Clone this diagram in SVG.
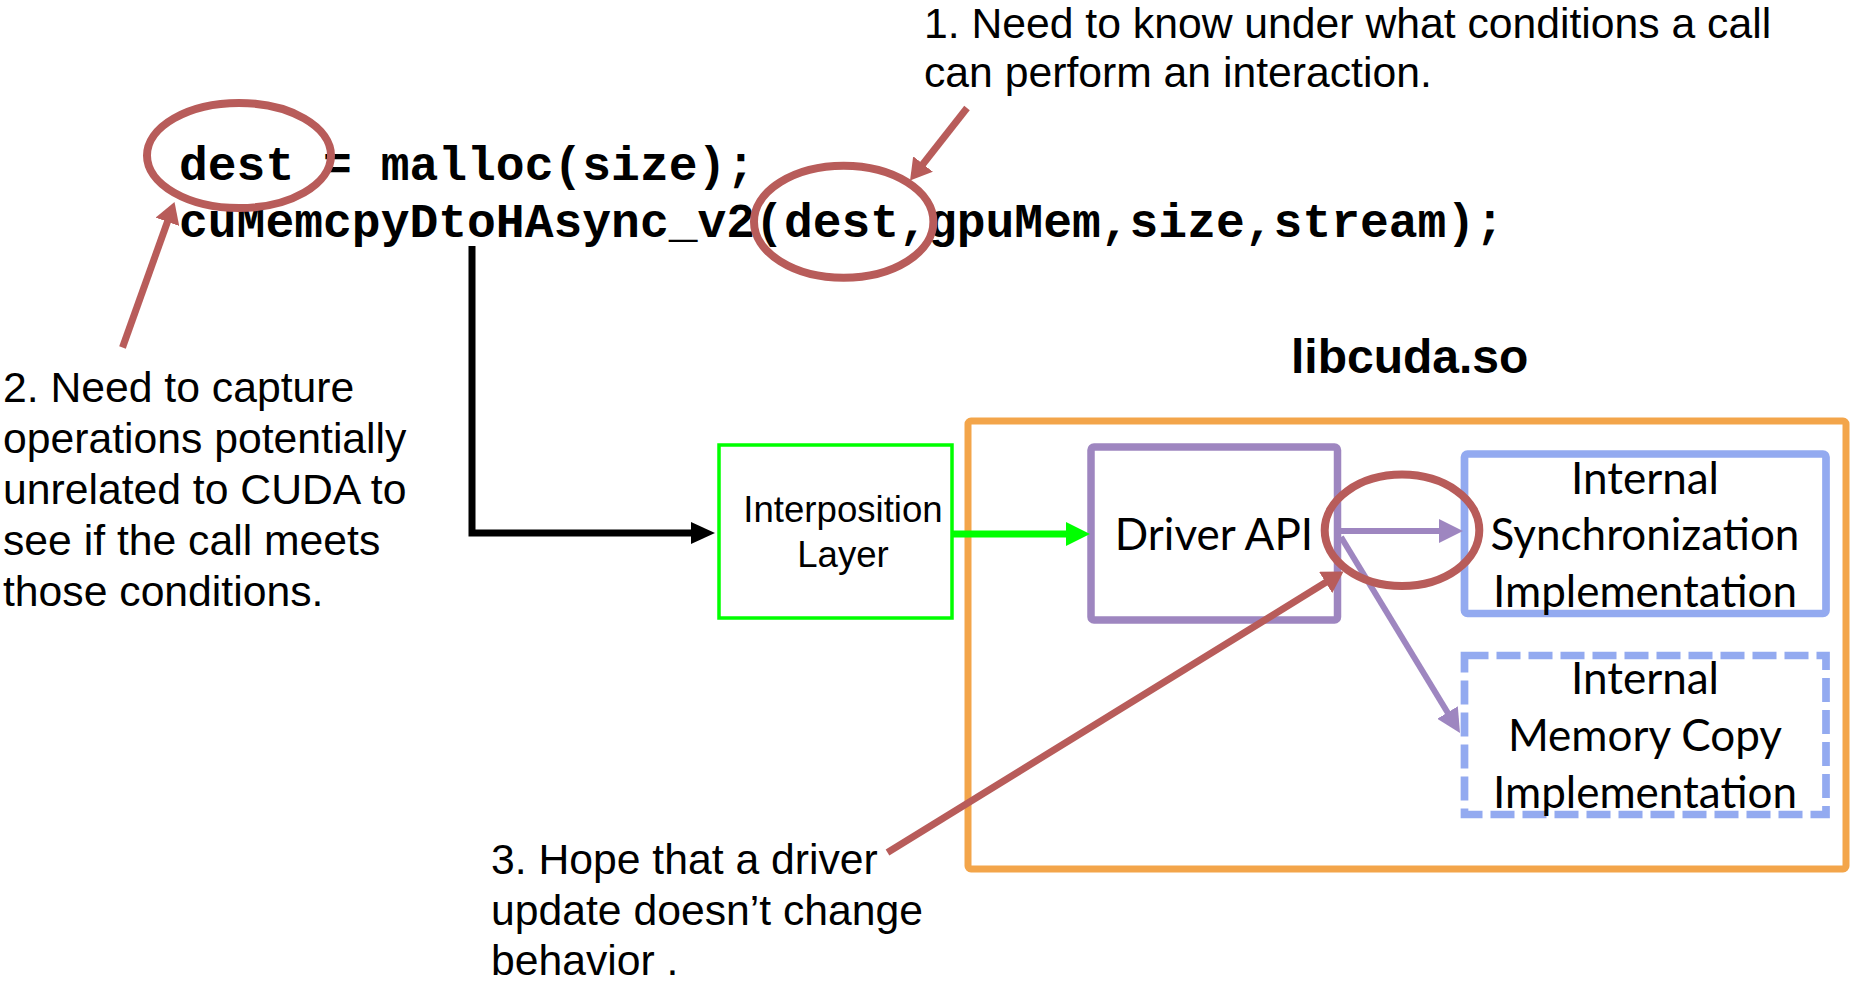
<svg xmlns="http://www.w3.org/2000/svg" width="1853" height="981" viewBox="0 0 1853 981">
  <style>
    .note { font-family: "Liberation Sans", Arial, sans-serif; font-size: 42.7px; fill: #000; }
    .code { font-family: "Liberation Mono", "Courier New", monospace; font-weight: bold; font-size: 48px; fill: #000; }
    .lib { font-family: "Liberation Sans", Arial, sans-serif; font-weight: bold; font-size: 48px; fill: #000; }
    .box-label { font-family: "Liberation Sans", Arial, sans-serif; font-size: 36.6px; fill: #000; text-anchor: middle; }
    .gill { font-family: Lato, "Gill Sans MT", "Gill Sans", sans-serif; font-size: 44px; fill: #000; text-anchor: middle; }
    .mark { fill: none; stroke: #B85C5A; stroke-width: 8; }
    .pointer { fill: none; stroke: #B85C5A; stroke-width: 7; marker-end: url(#head-red); }
  </style>
  <defs>
    <marker id="head-red" markerUnits="userSpaceOnUse" viewBox="0 0 21 25" refX="7" refY="12.5" markerWidth="21" markerHeight="25" orient="auto">
      <path d="M0,0 L21,12.5 L0,25 Z" fill="#B85C5A"/>
    </marker>
    <marker id="head-black" markerUnits="userSpaceOnUse" viewBox="0 0 24 22" refX="8" refY="11" markerWidth="24" markerHeight="22" orient="auto">
      <path d="M0,0 L24,11 L0,22 Z" fill="#000"/>
    </marker>
    <marker id="head-green" markerUnits="userSpaceOnUse" viewBox="0 0 24 24" refX="8" refY="12" markerWidth="24" markerHeight="24" orient="auto">
      <path d="M0,0 L24,12 L0,24 Z" fill="#00FF00"/>
    </marker>
    <marker id="head-purple" markerUnits="userSpaceOnUse" viewBox="0 0 24 24" refX="8" refY="12" markerWidth="24" markerHeight="24" orient="auto">
      <path d="M0,0 L24,12 L0,24 Z" fill="#9E86C0"/>
    </marker>
  </defs>

  <rect width="1853" height="981" fill="#fff"/>

  <!-- notes -->
  <g id="note-conditions">
    <text class="note" x="924" y="38">1. Need to know under what conditions a call</text>
    <text class="note" x="924" y="87">can perform an interaction.</text>
  </g>
  <g id="note-capture">
    <text class="note" x="3" y="402">2. Need to capture</text>
    <text class="note" x="3" y="453">operations potentially</text>
    <text class="note" x="3" y="504">unrelated to CUDA to</text>
    <text class="note" x="3" y="555">see if the call meets</text>
    <text class="note" x="3" y="606">those conditions.</text>
  </g>
  <g id="note-driver">
    <text class="note" x="491" y="874">3. Hope that a driver</text>
    <text class="note" x="491" y="924.5">update doesn’t change</text>
    <text class="note" x="491" y="975">behavior .</text>
  </g>

  <!-- source code -->
  <g id="code">
    <text class="code" x="179" y="180">dest = malloc(size);</text>
    <text class="code" x="179" y="237">cuMemcpyDtoHAsync_v2(dest,gpuMem,size,stream);</text>
  </g>

  <!-- library container -->
  <g id="libcuda">
    <rect x="968" y="421" width="878" height="448" rx="3" fill="none" stroke="#F3A54A" stroke-width="7"/>
    <text class="lib" x="1291" y="373">libcuda.so</text>
  </g>

  <g id="interposition-layer">
    <rect x="719" y="445" width="233" height="173" fill="none" stroke="#00FF00" stroke-width="3.5"/>
    <text class="box-label" x="843" y="521.5">Interposition</text>
    <text class="box-label" x="843" y="566.5">Layer</text>
  </g>

  <g id="driver-api">
    <rect x="1091" y="447" width="246.5" height="173" rx="3" fill="none" stroke="#9E86C0" stroke-width="7.5"/>
    <text class="gill" x="1214" y="550">Driver API</text>
  </g>

  <g id="internal-sync">
    <rect x="1464.5" y="454" width="361.5" height="159.5" rx="3" fill="none" stroke="#93AAF0" stroke-width="7.7"/>
    <text class="gill" x="1645" y="494">Internal</text>
    <text class="gill" x="1645" y="550">Synchronization</text>
    <text class="gill" x="1645" y="607">Implementation</text>
  </g>

  <g id="internal-memcpy">
    <rect x="1464.5" y="655.5" width="361.5" height="159" fill="none" stroke="#93AAF0" stroke-width="7.7" stroke-dasharray="24 8"/>
    <text class="gill" x="1645" y="694">Internal</text>
    <text class="gill" x="1645" y="751">Memory Copy</text>
    <text class="gill" x="1645" y="808">Implementation</text>
  </g>

  <!-- call flow -->
  <g id="connectors">
    <polyline points="472,246 472,533 699,533" fill="none" stroke="#000" stroke-width="7" stroke-linejoin="miter" marker-end="url(#head-black)"/>
    <line x1="952" y1="534" x2="1074" y2="534" stroke="#00FF00" stroke-width="7" marker-end="url(#head-green)"/>
    <line x1="1341" y1="531" x2="1447" y2="531" stroke="#9E86C0" stroke-width="6" marker-end="url(#head-purple)"/>
    <line x1="1341" y1="537" x2="1451.7" y2="719.3" stroke="#9E86C0" stroke-width="6" marker-end="url(#head-purple)"/>
  </g>

  <!-- highlight marks and pointers -->
  <g id="highlights">
    <ellipse class="mark" cx="239" cy="155.5" rx="92" ry="52.5"/>
    <ellipse class="mark" cx="843.7" cy="221.7" rx="89.7" ry="56"/>
    <ellipse class="mark" cx="1402" cy="530.3" rx="77.3" ry="55.7"/>
    <line class="pointer" x1="967" y1="108" x2="918.7" y2="169.5"/>
    <line class="pointer" x1="122.5" y1="347.5" x2="169.8" y2="215.2"/>
    <line class="pointer" x1="887.5" y1="852.5" x2="1331.6" y2="578.8"/>
  </g>
</svg>
